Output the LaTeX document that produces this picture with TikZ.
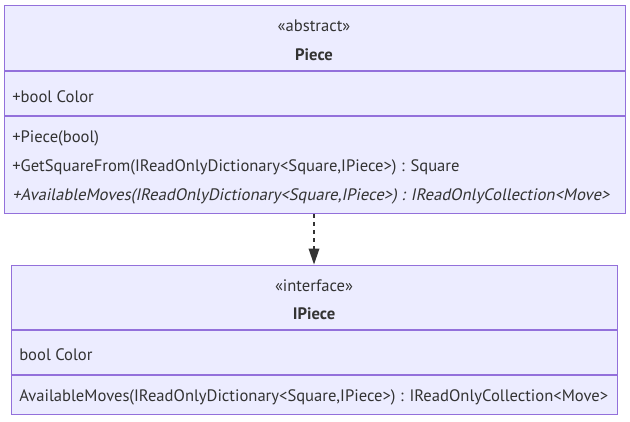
\documentclass[tikz,border=0pt]{standalone}
\usepackage{fontspec}
\setmainfont{PT Sans}
\newfontfamily\slantfont[FakeSlant=0.2]{PT Sans}
\usetikzlibrary{arrows.meta}
\definecolor{boxfill}{HTML}{ECECFF}
\definecolor{boxline}{HTML}{9370DB}
\definecolor{txt}{HTML}{333333}
\begin{document}
\begin{tikzpicture}[x=0.75pt,y=-0.75pt,
  classbox/.style={draw=boxline,fill=boxfill,line width=1pt,anchor=north west,inner sep=0pt},
  divider/.style={draw=boxline,line width=1pt},
  lbl/.style={text=txt,font=\fontsize{12.45pt}{14pt}\selectfont,inner sep=0pt,text height=9pt,text depth=0pt},
  member/.style={lbl,anchor=west},
  title/.style={lbl,anchor=center}]
\useasboundingbox (0,0) rectangle (630,421);
% Piece
\node[classbox,minimum width=465.4pt,minimum height=156.4pt] (piece) at (4,4.5) {};
\draw[divider] (4,71) -- (624.5,71);
\draw[divider] (4,116) -- (624.5,116);
\node[title] (pst) at (314,25.5) {«abstract»};
\node[title] (pname) at (314,54.5) {\textbf{Piece}};
\node[member] (pa1) at (12,96.5) {+bool Color};
\node[member] (pm1) at (12,136.5) {+Piece(bool)};
\node[member] (pm2) at (12,165.5) {+GetSquareFrom(IReadOnlyDictionary<Square,IPiece>) : Square};
\node[member] (pm3) at (12,194.5) {\slantfont +AvailableMoves(IReadOnlyDictionary<Square,IPiece>) : IReadOnlyCollection<Move>};
% IPiece
\node[classbox,minimum width=454.9pt,minimum height=112.1pt] (ipiece) at (10.5,264.5) {};
\draw[divider] (10.5,330) -- (617,330);
\draw[divider] (10.5,375) -- (617,375);
\node[title] (ist) at (314,285.5) {«interface»};
\node[title] (iname) at (314,313.5) {\textbf{IPiece}};
\node[member] (ia1) at (19,354.5) {bool Color};
\node[member] (im1) at (19,395.5) {AvailableMoves(IReadOnlyDictionary<Square,IPiece>) : IReadOnlyCollection<Move>};
% realization
\draw[txt,line width=1pt,dashed,dash pattern=on 3pt off 3pt,-{Triangle[length=12pt,width=8pt]}] (piece.south -| 314,0) -- (ipiece.north -| 314,0);
\end{tikzpicture}
\end{document}
